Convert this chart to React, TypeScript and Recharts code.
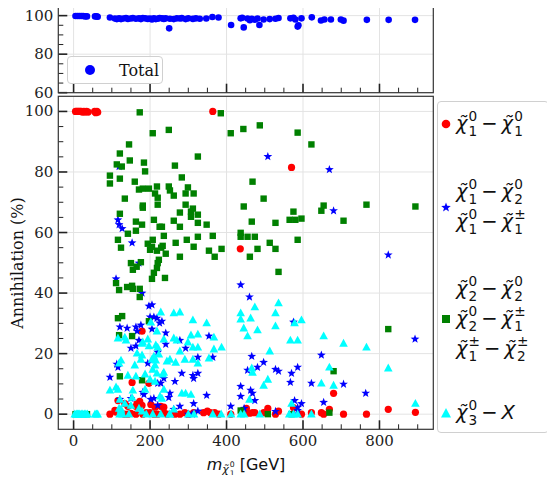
import React from "react";
import { ScatterChart, Scatter, XAxis, YAxis, CartesianGrid } from "recharts";

// [m_chi10 (GeV), annihilation (%)]
const totalAnn: [number, number][] = [
  [5, 99.8], [10, 99.8], [15, 99.8], [20, 99.8], [25, 99.8], [30, 99.6], [35, 99.6],
  [56, 99.6], [60, 99.6], [63, 99.4], [95, 99], [108, 98.5], [113, 98.2], [119, 98.6],
  [124, 98.2], [130, 98.5], [137, 98.8], [142, 98.3], [150, 98.5], [155, 98.8],
  [163, 98.4], [171, 98.6], [176, 98.2], [181, 98.8], [187, 98.6], [194, 98.3],
  [200, 98.5], [205, 98], [210, 98.6], [215, 98.2], [220, 98.4], [225, 98.8],
  [231, 98.6], [236, 98.3], [241, 98.6], [250, 93.4], [252, 98.4], [262, 98.2],
  [270, 98.6], [278, 98.5], [283, 98.7], [293, 98.2], [300, 98.6], [312, 98.3],
  [320, 98.6], [330, 98.4], [347, 98.5], [363, 99.3], [379, 99], [412, 95.1],
  [437, 98.6], [441, 98.9], [445, 93.9], [455, 98.5], [461, 97.6], [466, 98.4],
  [474, 97.9], [481, 98.5], [486, 95.1], [497, 98], [513, 98.2], [528, 98.4],
  [536, 98.8], [567, 98.6], [575, 98.9], [580, 98], [586, 94.3], [588, 95],
  [596, 98.6], [623, 99.1], [647, 97.5], [656, 98], [673, 98], [699, 98], [706, 97.4],
  [767, 97.8], [824, 97.8], [893, 97.8],
];

const chi1chi1: [number, number][] = [
  [5, 100], [8, 100], [11, 100], [14, 100], [17, 100], [20, 100], [23, 99.8], [27, 100],
  [30, 99.8], [34, 100], [38, 99.8], [55, 100], [58, 99.6], [61, 100], [63, 99.7],
  [364, 100], [436, 54.6], [570, 81.5], [179, 27.4], [153, 10.5], [197, 10.2],
  [680, 6.9], [823, 1.6], [894, 0.6], [173, 4.2], [116, 4.5], [134, 3.5], [142, 2.6],
  [163, 2.6], [179, 2.9], [166, 3.5], [202, 3.2], [213, 2.3], [228, 2.6], [236, 2.3],
  [95, 0], [108, 1.3], [111, 0.7], [124, 0.3], [133, 0], [142, 0], [150, 0.3],
  [163, 0], [181, 0], [190, 0.5], [200, 0.5], [210, 0], [220, 0], [236, 0.5], [245, 0],
  [265, 0], [278, 0], [291, 0.5], [300, 0], [314, 0.5], [340, 0.5], [350, 1], [358, 0.5],
  [369, 0.5], [380, 0], [411, 0], [446, 0.5], [452, 1.9], [460, 0.3], [468, 0.5],
  [474, 0.5], [497, 0.5], [508, 1.9], [528, 0], [536, 1], [575, 2.2], [596, 0],
  [622, 0.5], [648, 0.5], [654, 0], [669, 1.6], [706, 0], [766, 0],
];

const chi1chi2: [number, number][] = [
  [116, 64.2], [119, 62.6], [127, 61.3], [153, 56.6], [119, 81.8], [171, 49.9],
  [508, 85.1], [669, 80.8], [680, 67.2], [823, 52.6], [111, 44.7], [179, 40.0],
  [197, 35.7], [205, 36.1], [200, 32.1], [210, 32.1], [218, 31.7], [176, 29.4],
  [231, 30.7], [225, 30.1], [121, 28.8], [140, 28.4], [163, 28.8], [166, 27.4],
  [205, 28.1], [241, 26.8], [171, 24.4], [163, 22.5], [150, 21.8], [241, 23.1],
  [278, 24.4], [354, 25.8], [293, 21.8], [220, 20.5], [325, 18.8], [364, 18.8],
  [194, 16.8], [113, 16.5], [116, 15.5], [283, 13.5], [95, 12.2], [312, 12.8],
  [314, 11.8], [325, 13.5], [220, 10.2], [228, 10.2], [236, 11.8], [265, 10.8],
  [181, 7.2], [184, 6.5], [252, 6.9], [249, 5.5], [202, 4.9], [210, 5.2], [348, 6.2],
  [121, 4.9], [150, 5.2], [314, 3.5], [278, 2.6], [262, 1.6], [220, 2.9], [411, 2.6],
  [300, 0], [310, 0], [325, 1], [437, 42.7], [460, 38.7], [575, 30.4], [893, 24.8],
  [466, 19.1], [648, 19.5], [497, 17.1], [455, 14.5], [481, 15.5], [528, 14.8],
  [536, 14.2], [586, 15.5], [570, 13.5], [437, 9.2], [567, 10.5], [622, 10.2],
  [706, 9.9], [437, 5.9], [463, 7.9], [468, 6.9], [474, 4.5], [764, 6.9], [578, 4.5],
  [654, 3.9], [596, 3.5], [586, 2.2], [586, 1.2], [446, 1.9], [528, 0.9],
];

const chi2chi2: [number, number][] = [
  [173, 99.7], [385, 99.4], [207, 92.8], [249, 93.9], [411, 92.8], [444, 94.2],
  [145, 89.1], [121, 86.1], [325, 85.1], [147, 83.8], [184, 83.1], [113, 82.5],
  [126, 81.8], [265, 82.1], [187, 80.2], [95, 78.8], [283, 78.2], [121, 77.8],
  [95, 76.2], [160, 76.8], [181, 74.5], [171, 74.2], [197, 74.5], [218, 75.2],
  [249, 75.2], [252, 73.9], [299, 74.9], [213, 72.9], [262, 72.2], [293, 72.9],
  [314, 72.9], [220, 71.5], [134, 71.2], [220, 69.2], [181, 68.9], [181, 68.2],
  [293, 69.2], [312, 67.9], [307, 66.9], [278, 66.6], [325, 65.9], [307, 65.2],
  [121, 66.2], [163, 63.6], [179, 62.6], [210, 64.2], [225, 61.9], [231, 61.9],
  [262, 63.9], [278, 61.9], [325, 63.2], [348, 62.6], [163, 60.6], [142, 59.6],
  [116, 57.6], [207, 57.6], [236, 58.9], [296, 57.6], [325, 58.6], [364, 58.9],
  [437, 59.9], [437, 58.6], [194, 56.3], [205, 55.3], [233, 55.6], [267, 56.6],
  [229, 55.0], [124, 55.0], [200, 54.3], [218, 54.0], [314, 55.3], [354, 54.0],
  [387, 54.6], [241, 53.0], [369, 52.0], [278, 52.0], [223, 51.0], [150, 49.9],
  [176, 50.2], [220, 49.9], [487, 95.4], [586, 93.0], [622, 89.1], [468, 76.8],
  [497, 71.2], [445, 68.6], [575, 66.9], [654, 68.9], [648, 67.2], [766, 69.2],
  [894, 68.6], [466, 63.6], [528, 63.2], [565, 64.2], [580, 64.2], [596, 64.6],
  [706, 63.9], [455, 58.6], [474, 58.6], [513, 56.6], [586, 57.6], [481, 54.6],
  [528, 54.6], [461, 52.0], [165, 48.7], [155, 47.7], [218, 48.3], [210, 46.7],
  [205, 44.7], [239, 45.0], [111, 43.3], [119, 41.0], [140, 42.0], [153, 42.4],
  [155, 41.4], [173, 41.4], [173, 38.7], [116, 31.7], [127, 32.4], [197, 30.7],
  [119, 26.1], [153, 25.8], [121, 12.5], [179, 11.2], [437, 1.2], [5, 0], [15, 0],
  [25, 0], [35, 0], [536, 47.0], [823, 28.1], [680, 14.2], [508, 0], [570, 0], [669, 0.5],
];

const chi3X: [number, number][] = [
  [228, 33.7], [262, 33.4], [278, 33.7], [312, 31.1], [348, 30.1], [202, 30.4],
  [218, 27.4], [116, 25.1], [134, 25.4], [137, 24.4], [194, 24.8], [181, 23.8],
  [179, 23.4], [236, 24.8], [262, 25.1], [270, 24.4], [307, 26.1], [325, 26.4],
  [299, 23.8], [367, 25.4], [197, 22.5], [220, 22.1], [215, 22.8], [278, 20.8],
  [312, 22.1], [325, 22.1], [387, 22.1], [367, 21.5], [166, 20.1], [179, 19.5],
  [210, 19.1], [223, 19.8], [176, 18.1], [205, 18.1], [215, 17.8], [252, 18.1],
  [244, 17.5], [267, 17.1], [291, 18.1], [312, 18.1], [325, 16.8], [354, 18.5],
  [124, 17.8], [119, 16.8], [160, 16.2], [213, 16.2], [207, 14.8], [236, 13.8],
  [218, 13.5], [233, 13.2], [142, 12.8], [163, 12.5], [187, 13.2], [200, 11.5],
  [213, 10.8], [95, 7.9], [111, 8.9], [116, 8.2], [155, 7.9], [187, 8.2], [236, 8.2],
  [226, 5.9], [231, 5.2], [283, 6.9], [293, 6.9], [307, 6.5], [121, 4.9], [153, 5.5],
  [134, 3.5], [150, 2.9], [119, 1.9], [124, 1.6], [171, 1.9], [179, 1.0], [262, 1.6],
  [252, 0], [3, 0], [7, 0], [10, 0], [13, 0], [16, 0], [20, 0], [24, 0], [28, 0],
  [32, 0], [36, 0], [56, 0], [60, 0], [63, 0], [120, 0], [124, 1.2], [128, 0],
  [145, 0], [190, 0], [207, 0], [228, 0], [251, 0], [300, 0], [315, 0], [364, 0],
  [386, 0], [412, 0], [536, 36.7], [474, 35.4], [437, 33.4], [437, 31.4], [463, 31.7],
  [528, 33.4], [578, 30.1], [596, 31.1], [445, 28.4], [481, 27.8], [528, 29.1],
  [455, 25.8], [567, 24.4], [586, 24.4], [654, 25.8], [706, 23.4], [766, 22.1],
  [513, 20.8], [466, 15.2], [468, 13.8], [669, 15.5], [823, 15.2], [508, 11.5],
  [497, 9.5], [648, 10.2], [680, 9.5], [460, 4.9], [570, 3.5], [894, 3.5], [437, 0],
  [446, 0], [487, 0], [564, 0], [575, 0], [586, 0], [622, 0],
];

const massTicks = [0, 50, 100, 150, 200, 250, 300, 350, 400, 450, 500, 550, 600, 650, 700, 750, 800, 850, 900];
const topTicks = [60, 65, 70, 75, 80, 85, 90, 95, 100];
const mainTicks = [0, 5, 10, 15, 20, 25, 30, 35, 40, 45, 50, 55, 60, 65, 70, 75, 80, 85, 90, 95, 100];

const toPts = (arr: [number, number][]) => arr.map(([x, y]) => ({ x, y }));

const TICK = "#222";
const SERIF = "'DejaVu Serif', serif";
const SANS = "'DejaVu Sans', sans-serif";

function starPath(cx: number, cy: number, R: number, r: number) {
  let d = "";
  for (let i = 0; i < 10; i++) {
    const a = -Math.PI / 2 + (i * Math.PI) / 5;
    const rad = i % 2 === 0 ? R : r;
    d += (i === 0 ? "M" : "L") + (cx + rad * Math.cos(a)).toFixed(2) + "," + (cy + rad * Math.sin(a)).toFixed(2);
  }
  return d + "Z";
}

const dot = (fill: string, r: number) => (p: any) => <circle cx={p.cx} cy={p.cy} r={r} fill={fill} />;
const star = (p: any) => <path d={starPath(p.cx, p.cy, 4.6, 1.9)} fill="#0000ff" />;
const square = (p: any) => <rect x={p.cx - 3.2} y={p.cy - 3.2} width={6.4} height={6.4} fill="#008000" />;
const tri = (p: any) => (
  <path d={`M${p.cx},${p.cy - 4.6}L${p.cx + 4.3},${p.cy + 3.3}L${p.cx - 4.3},${p.cy + 3.3}Z`} fill="#00ffff" />
);

// inward ticks; majors get labels
const yTick = (majorEvery: number) => (p: any) => {
  const v = p.payload.value;
  const major = v % majorEvery === 0;
  return (
    <g>
      <line x1={p.x} x2={p.x + (major ? 9 : 5)} y1={p.y} y2={p.y} stroke={TICK} strokeWidth={major ? 1.6 : 1} />
      {major && (
        <text x={p.x - 5} y={p.y + 5} textAnchor="end" fontFamily={SERIF} fontSize={15} fill="#222">
          {v}
        </text>
      )}
    </g>
  );
};

const xTick = (labels: boolean) => (p: any) => {
  const v = p.payload.value;
  const major = v % 200 === 0;
  return (
    <g>
      <line x1={p.x} x2={p.x} y1={p.y} y2={p.y - (major ? 9 : 5)} stroke={TICK} strokeWidth={major ? 1.6 : 1} />
      {labels && major && (
        <text x={p.x} y={p.y + 17} textAnchor="middle" fontFamily={SERIF} fontSize={15} fill="#222">
          {v}
        </text>
      )}
    </g>
  );
};

function Chi({ sup, sub }: { sup: string; sub: string }) {
  return (
    <span style={{ display: "inline-flex", alignItems: "center" }}>
      <span style={{ fontStyle: "italic" }}>χ̃</span>
      <span
        style={{
          display: "inline-flex",
          flexDirection: "column",
          fontSize: "0.7em",
          lineHeight: 1.1,
          marginLeft: 1,
        }}
      >
        <span>{sup}</span>
        <span>{sub}</span>
      </span>
    </span>
  );
}

const Minus = () => <span style={{ margin: "0 4px" }}>−</span>;

function Line({ children }: { children: React.ReactNode }) {
  return <div style={{ display: "flex", alignItems: "center", height: 30 }}>{children}</div>;
}

function LegendRow({ top, marker, lines }: { top: number; marker: React.ReactNode; lines: React.ReactNode[] }) {
  return (
    <div style={{ position: "absolute", left: 0, top, transform: "translateY(-50%)", display: "flex", alignItems: "center" }}>
      <svg width={16} height={12} style={{ marginLeft: 1 }}>
        {marker}
      </svg>
      <div style={{ marginLeft: 1 }}>
        {lines.map((l, i) => (
          <Line key={i}>{l}</Line>
        ))}
      </div>
    </div>
  );
}

export default function App() {
  return (
    <div style={{ position: "relative", width: 555, height: 483, margin: -8, background: "#fff" }}>
      <div style={{ position: "absolute", left: 0, top: 0 }}>
        <ScatterChart width={440} height={110} margin={{ top: 6, right: 7, left: 0, bottom: 0 }}>
          <CartesianGrid stroke="#e3e3e3" horizontalValues={[80, 100]} verticalValues={[0, 200, 400, 600, 800]} />
          <XAxis
            type="number"
            dataKey="x"
            domain={[-40, 940]}
            ticks={massTicks}
            interval={0}
            height={17.3}
            axisLine={false}
            tickLine={false}
            tickSize={0}
            tickMargin={0}
            tick={xTick(false)}
          />
          <YAxis
            type="number"
            dataKey="y"
            domain={[60, 105]}
            ticks={topTicks}
            interval={0}
            width={58.3}
            axisLine={false}
            tickLine={false}
            tickSize={0}
            tickMargin={0}
            tick={yTick(20)}
          />
          <Scatter data={toPts(totalAnn)} shape={dot("#0000ff", 3.3)} isAnimationActive={false} />
        </ScatterChart>
      </div>

      <div style={{ position: "absolute", left: 0, top: 0 }}>
        <ScatterChart width={440} height={483} margin={{ top: 96.3, right: 7, left: 0, bottom: 0 }}>
          <CartesianGrid
            stroke="#e3e3e3"
            horizontalValues={[0, 20, 40, 60, 80, 100]}
            verticalValues={[0, 200, 400, 600, 800]}
          />
          <XAxis
            type="number"
            dataKey="x"
            domain={[-40, 940]}
            ticks={massTicks}
            interval={0}
            height={53.7}
            axisLine={false}
            tickLine={false}
            tickSize={0}
            tickMargin={0}
            tick={xTick(true)}
          />
          <YAxis
            type="number"
            dataKey="y"
            domain={[-5, 105]}
            ticks={mainTicks}
            interval={0}
            width={58.3}
            axisLine={false}
            tickLine={false}
            tickSize={0}
            tickMargin={0}
            tick={yTick(20)}
          />
          <Scatter data={toPts(chi1chi1)} shape={dot("#ff0000", 3.6)} isAnimationActive={false} />
          <Scatter data={toPts(chi1chi2)} shape={star} isAnimationActive={false} />
          <Scatter data={toPts(chi2chi2)} shape={square} isAnimationActive={false} />
          <Scatter data={toPts(chi3X)} shape={tri} isAnimationActive={false} />
        </ScatterChart>
      </div>

      <svg width={555} height={483} style={{ position: "absolute", left: 0, top: 0, pointerEvents: "none" }}>
        <rect x={58.3} y={6} width={375} height={86.7} fill="none" stroke="#333" strokeWidth={1.2} />
        <rect x={58.3} y={96.3} width={375} height={333} fill="none" stroke="#333" strokeWidth={1.2} />
      </svg>

      {/* top panel legend */}
      <div
        style={{
          position: "absolute",
          left: 67,
          top: 56,
          width: 96,
          height: 28,
          boxSizing: "border-box",
          border: "1px solid #d0d0d0",
          borderRadius: 4,
          background: "rgba(255,255,255,0.8)",
          fontFamily: SERIF,
          fontSize: 16,
          display: "flex",
          alignItems: "center",
        }}
      >
        <span style={{ width: 10, height: 10, borderRadius: 5, background: "#0000ff", marginLeft: 17 }} />
        <span style={{ marginLeft: 24, color: "#111" }}>Total</span>
      </div>

      {/* y label */}
      <div
        style={{
          position: "absolute",
          left: 17,
          top: 263,
          transform: "translate(-50%, -50%) rotate(-90deg)",
          fontFamily: SERIF,
          fontSize: 16,
          whiteSpace: "nowrap",
          color: "#111",
        }}
      >
        Annihilation (%)
      </div>

      {/* x label */}
      <div
        style={{
          position: "absolute",
          left: 246,
          top: 464,
          transform: "translate(-50%, -50%)",
          fontFamily: SANS,
          fontSize: 16,
          whiteSpace: "nowrap",
          color: "#111",
          display: "flex",
          alignItems: "center",
        }}
      >
        <span style={{ fontStyle: "italic" }}>m</span>
        <span style={{ fontSize: 11, position: "relative", top: 5, marginRight: 5 }}>
          <Chi sup="0" sub="1" />
        </span>
        <span>[GeV]</span>
      </div>

      {/* right legend */}
      <div
        style={{
          position: "absolute",
          left: 437,
          top: 100.7,
          width: 112,
          height: 332.6,
          boxSizing: "border-box",
          border: "1px solid #d0d0d0",
          borderRadius: 4,
          background: "#fff",
          fontFamily: SANS,
          fontSize: 19.5,
          color: "#111",
        }}
      >
        <LegendRow
          top={22}
          marker={<circle cx={7} cy={6} r={4.3} fill="#ff0000" />}
          lines={[
            <>
              <Chi sup="0" sub="1" />
              <Minus />
              <Chi sup="0" sub="1" />
            </>,
          ]}
        />
        <LegendRow
          top={105}
          marker={<path d={starPath(7, 6.5, 5, 2.1)} fill="#0000ff" />}
          lines={[
            <>
              <Chi sup="0" sub="1" />
              <Minus />
              <Chi sup="0" sub="2" />
            </>,
            <>
              <Chi sup="0" sub="1" />
              <Minus />
              <Chi sup="±" sub="1" />
            </>,
          ]}
        />
        <LegendRow
          top={217}
          marker={<rect x={3} y={2} width={8} height={8} fill="#008000" />}
          lines={[
            <>
              <Chi sup="0" sub="2" />
              <Minus />
              <Chi sup="0" sub="2" />
            </>,
            <>
              <Chi sup="0" sub="2" />
              <Minus />
              <Chi sup="±" sub="1" />
            </>,
            <>
              <Chi sup="±" sub="1" />
              <Minus />
              <Chi sup="±" sub="2" />
            </>,
          ]}
        />
        <LegendRow
          top={311}
          marker={<path d="M7,1L12,10.5L2,10.5Z" fill="#00ffff" />}
          lines={[
            <>
              <Chi sup="0" sub="3" />
              <Minus />
              <span style={{ fontStyle: "italic" }}>X</span>
            </>,
          ]}
        />
      </div>
    </div>
  );
}
